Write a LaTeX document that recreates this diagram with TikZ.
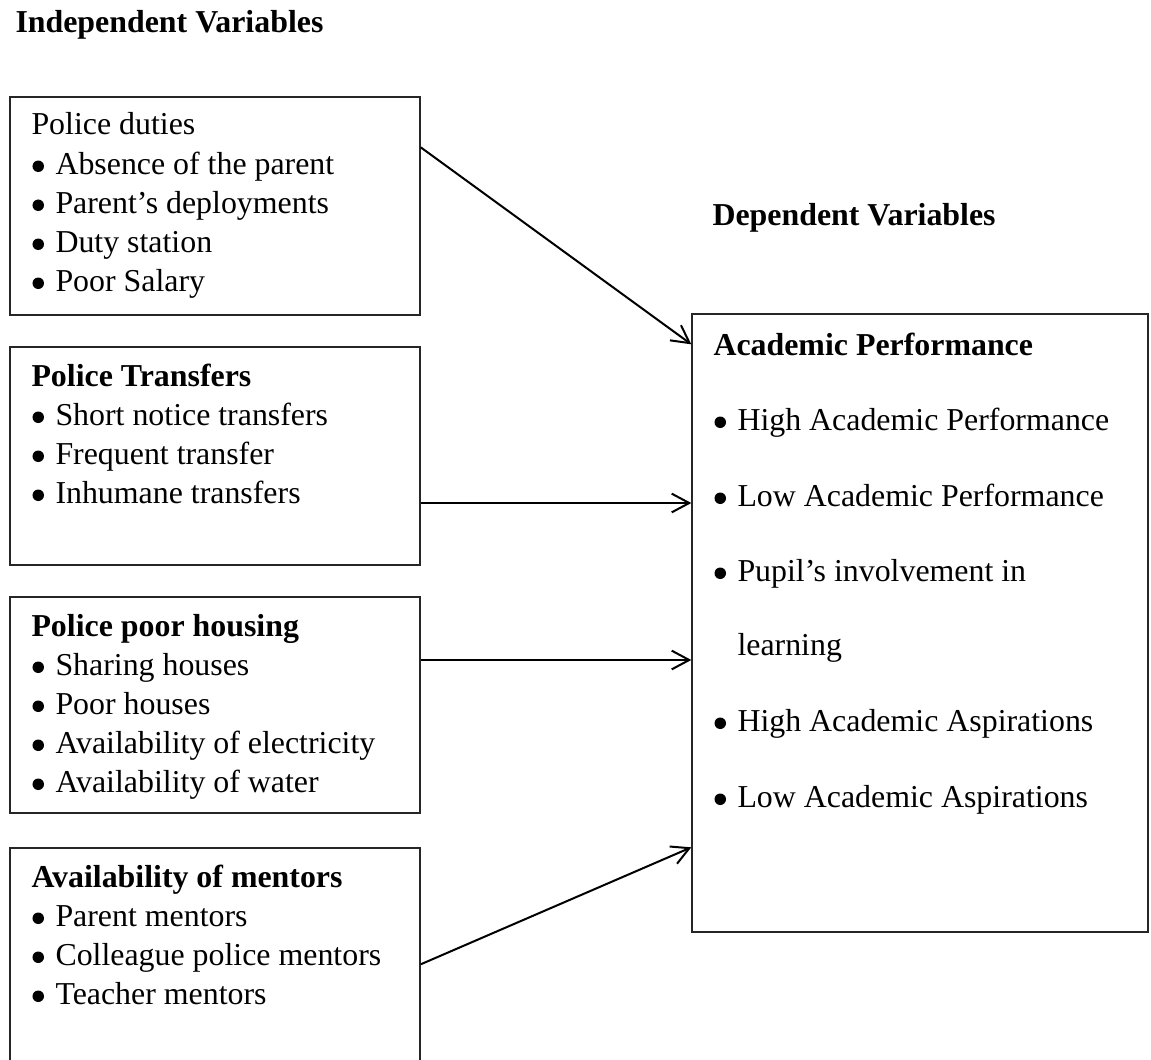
\documentclass[tikz,border=0pt]{standalone}
\usepackage{fontspec}
\setmainfont{Liberation Serif}
\usetikzlibrary{arrows.meta,fit}
\newcommand\mybul{\makebox[9.2pt][l]{\tikz[baseline=0pt,x=1pt,y=1pt]{\useasboundingbox (0,0) rectangle (4.6,5);\fill (2.3,3.1) circle[radius=2.3pt];}}}
\begin{document}
\begin{tikzpicture}[x=0.4pt,y=-0.4pt,
  box/.style={draw=black!85, line width=0.55pt, inner sep=0pt},
  txt/.style={anchor=base west, inner sep=0pt, font=\fontsize{12.75pt}{14pt}\selectfont},
  hd/.style={anchor=base west, inner sep=0pt, font=\fontsize{12.75pt}{14pt}\selectfont\bfseries},
  arr/.style={-{Straight Barb[length=7pt,width=7.5pt,line width=0.8pt]}, line width=0.8pt}]
\clip (0,0) rectangle (1151,1059);
\fill[white] (0,0) rectangle (1151,1059);

% titles
\node[hd] (ti) at (15,33) {Independent Variables};
\node[hd] (td) at (712,225) {Dependent Variables};

% boxes
\node[box, fit={(10,97)(420,315)}] (b1) {};
\node[box, fit={(10,347)(420,565)}] (b2) {};
\node[box, fit={(10,597)(420,813)}] (b3) {};
\node[box, fit={(10,848)(420,1100)}] (b4) {};
\node[box, fit={(692,314)(1148,932)}] (ap) {};

% box 1
\node[txt] (b1t) at (31,135) {Police duties};
\node[txt] (b1a) at (32,174) {\mybul Absence of the parent};
\node[txt] (b1b) at (32,213) {\mybul Parent’s deployments};
\node[txt] (b1c) at (32,252) {\mybul Duty station};
\node[txt] (b1d) at (32,291) {\mybul Poor Salary};

% box 2
\node[hd] (b2t) at (31,386) {Police Transfers};
\node[txt] (b2a) at (32,425) {\mybul Short notice transfers};
\node[txt] (b2b) at (32,464) {\mybul Frequent transfer};
\node[txt] (b2c) at (32,503) {\mybul Inhumane transfers};

% box 3
\node[hd] (b3t) at (31,636) {Police poor housing};
\node[txt] (b3a) at (32,675) {\mybul Sharing houses};
\node[txt] (b3b) at (32,714) {\mybul Poor houses};
\node[txt] (b3c) at (32,753) {\mybul Availability of electricity};
\node[txt] (b3d) at (32,792) {\mybul Availability of water};

% box 4
\node[hd] (b4t) at (31,887) {Availability of mentors};
\node[txt] (b4a) at (32,926) {\mybul Parent mentors};
\node[txt] (b4b) at (32,965) {\mybul Colleague police mentors};
\node[txt] (b4c) at (32,1004) {\mybul Teacher mentors};

% academic performance box
\node[hd] (apt) at (713,355) {Academic Performance};
\node[txt] (apa) at (714,430) {\mybul High Academic Performance};
\node[txt] (apb) at (714,506) {\mybul Low Academic Performance};
\node[txt] (apc) at (714,581) {\mybul Pupil’s involvement in};
\node[txt] (apc2) at (737,655) {learning};
\node[txt] (apd) at (714,731) {\mybul High Academic Aspirations};
\node[txt] (ape) at (714,807) {\mybul Low Academic Aspirations};

% connectors
\coordinate (s1) at ([yshift=-20.4pt]b1.north east);
\coordinate (e1) at ([yshift=-12.4pt]ap.north west);
\draw[arr] (s1) -- (e1);
\coordinate (s2) at ([yshift=-18.8pt]b2.east);
\draw[arr] (s2) -- (s2 -| ap.west);
\coordinate (s3) at ([yshift=18pt]b3.east);
\draw[arr] (s3) -- (s3 -| ap.west);
\coordinate (s4) at ([yshift=-46.8pt]b4.north east);
\coordinate (e4) at ([yshift=-213.6pt]ap.north west);
\draw[arr] (s4) -- (e4);
\end{tikzpicture}
\end{document}
